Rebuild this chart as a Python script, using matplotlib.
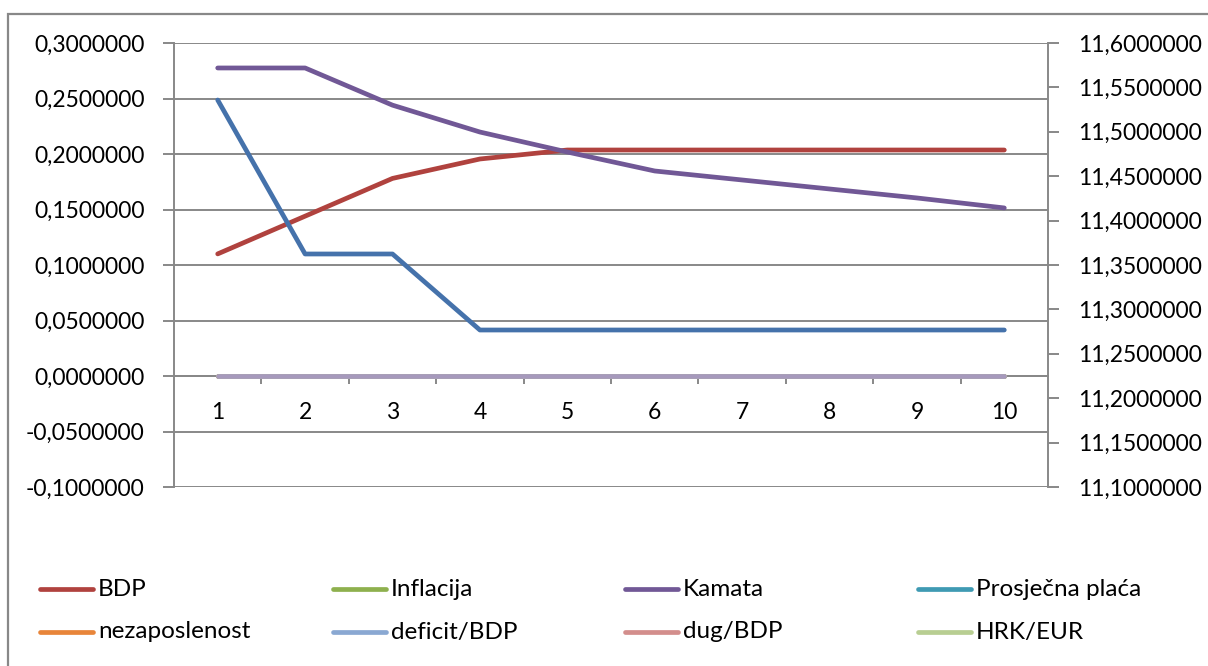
import matplotlib
matplotlib.use("Agg")
import matplotlib.pyplot as plt
from matplotlib.lines import Line2D
from matplotlib.patches import Rectangle
from matplotlib.ticker import FuncFormatter, FixedLocator

# --- data -------------------------------------------------------------
periods = [1, 2, 3, 4, 5, 6, 7, 8, 9, 10]
bdp = [0.1100, 0.1440, 0.1780, 0.1955, 0.2036, 0.2036, 0.2036, 0.2036, 0.2036, 0.2036]
kamata = [0.2775, 0.2775, 0.2440, 0.2198, 0.2018, 0.1847, 0.1766, 0.1685, 0.1604, 0.1514]
inflacija = [0.0] * 10
prosjecna_placa = [0.0] * 10
nezaposlenost = [0.0] * 10
deficit_bdp = [0.0] * 10
dug_bdp = [0.0] * 10
hrk_eur = [0.0] * 10
# series on the secondary (right) axis
sekundarna = [11.5358, 11.3624, 11.3624, 11.2768, 11.2768, 11.2768, 11.2768, 11.2768, 11.2768, 11.2768]
nulta = [0.0] * 10

left_ticks = [-0.10, -0.05, 0.0, 0.05, 0.10, 0.15, 0.20, 0.25, 0.30]
right_ticks = [11.10, 11.15, 11.20, 11.25, 11.30, 11.35, 11.40, 11.45, 11.50, 11.55, 11.60]

legend_names = ["BDP", "Inflacija", "Kamata", "Prosječna plaća",
                "nezaposlenost", "deficit/BDP", "dug/BDP", "HRK/EUR"]
legend_colors = ["#B0423E", "#8EB04E", "#715896", "#3F9AB3",
                 "#E8853A", "#8AA8D2", "#D38E8C", "#B8CE92"]

# --- figure -----------------------------------------------------------
W, H = 1208, 666
fig = plt.figure(figsize=(W / 100, H / 100), dpi=100)
plt.rcParams["font.family"] = ["Lato", "DejaVu Sans"]

GRID = "#888888"
FS = 16.5
FS_LEG = 17.5

def px(x, y):
    return x / W, 1 - y / H

# outer chart border
fig.add_artist(Rectangle(px(8, 700), (W + 20) / W, (700 - 14) / H,
                         transform=fig.transFigure, fill=False,
                         edgecolor=GRID, linewidth=1.6))

ax_l, ax_r, ax_t, ax_b = 174, 1048, 43, 487
ax = fig.add_axes([ax_l / W, 1 - ax_b / H, (ax_r - ax_l) / W, (ax_b - ax_t) / H])
ax2 = ax.twinx()

fmt = FuncFormatter(lambda v, p: f"{v:.7f}".replace(".", ","))

ax.set_xlim(0.5, 10.5)
ax.set_ylim(-0.1, 0.3)
ax2.set_ylim(11.1, 11.6)

ax.yaxis.set_major_locator(FixedLocator(left_ticks))
ax.yaxis.set_major_formatter(fmt)
ax2.yaxis.set_major_locator(FixedLocator(right_ticks))
ax2.yaxis.set_major_formatter(fmt)

for a in (ax, ax2):
    for s in a.spines.values():
        s.set_color(GRID)
        s.set_linewidth(1.4)
    a.spines["top"].set_visible(False)
    a.set_zorder(1)
ax2.spines["bottom"].set_visible(False)
ax.patch.set_visible(False)

ax.grid(axis="y", color=GRID, linewidth=1.4)
ax.set_axisbelow(True)

ax.tick_params(axis="y", direction="out", length=8, width=1.4, color=GRID,
               labelsize=FS, pad=13)
ax2.tick_params(axis="y", direction="out", length=8, width=1.4, color=GRID,
                labelsize=FS, pad=13.5)
ax.spines["right"].set_visible(False)
ax2.spines["left"].set_visible(False)

# category axis crossing at zero
ax.spines["bottom"].set_position(("data", 0))
ax.set_xticks(periods)
ax.set_xticklabels([str(p) for p in periods])
ax.set_xticks([p + 0.5 for p in periods[:-1]], minor=True)
ax.tick_params(axis="x", which="major", length=0, labelsize=FS, pad=19)
ax.tick_params(axis="x", which="minor", direction="out", length=6, width=1.4,
               color=GRID)

LW = 3.4
ax.plot(periods, bdp, color=legend_colors[0], lw=LW, solid_capstyle="round", zorder=5)
ax.plot(periods, kamata, color=legend_colors[2], lw=LW, solid_capstyle="round", zorder=5)
for vals, c in zip([inflacija, prosjecna_placa, nezaposlenost, deficit_bdp, dug_bdp, hrk_eur],
                   [legend_colors[1], legend_colors[3], legend_colors[4],
                    legend_colors[5], legend_colors[6], legend_colors[7]]):
    ax.plot(periods, vals, color=c, lw=LW, solid_capstyle="round", zorder=4)
ax.plot(periods, nulta, color="#A699BC", lw=LW, solid_capstyle="round", zorder=6)
ax2.plot(periods, sekundarna, color="#4572AB", lw=LW, solid_capstyle="round", zorder=5)

# legend (two rows, four columns)
col_x = [40, 333, 625, 918]
row_y = [589, 632]
for i, (name, c) in enumerate(zip(legend_names, legend_colors)):
    r, k = divmod(i, 4)
    x0, y0 = col_x[k], row_y[r]
    fig.add_artist(Line2D([x0 / W, (x0 + 53) / W], [1 - y0 / H, 1 - y0 / H],
                          transform=fig.transFigure, color=c, lw=LW,
                          solid_capstyle="round"))
    fig.text((x0 + 58) / W, 1 - y0 / H, name, fontsize=FS_LEG, va="center", ha="left")

fig.savefig("out.png", dpi=100)
